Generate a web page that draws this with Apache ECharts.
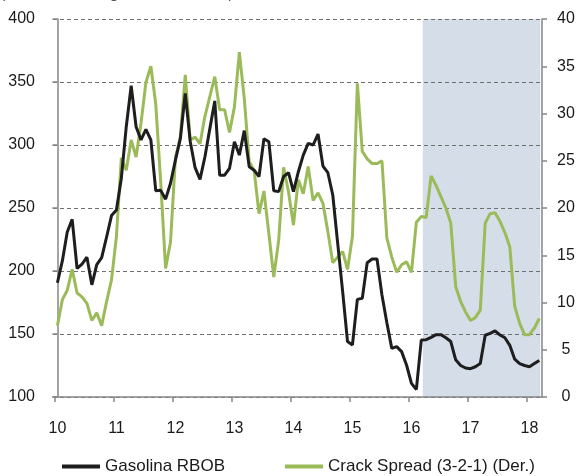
<!DOCTYPE html>
<html>
<head>
<meta charset="utf-8">
<script src="https://cdn.jsdelivr.net/npm/echarts@6/dist/echarts.min.js"></script>
<style>
html,body{margin:0;padding:0;background:#fff;}
#chart{width:582px;height:476px;background:#fff;}
</style>
</head>
<body>
<div id="chart"></div>
<script>
// Year tick labels (one per January, months indexed from Jan 2010 = 0)
const xTickLabels = ['10','11','12','13','14','15','16','17','18'];

// Gasolina RBOB (left axis), monthly from Jan 2010
const rbob = [
  190.7, 208, 231, 241, 202, 205.5, 211, 189, 205, 210.6, 227, 244, 248.4, 273.6, 314.5, 347,
  314.5, 304, 312.4, 304, 263.7, 264, 257, 269.6, 288, 305, 341, 303, 282, 272.7, 290.7, 313,
  335, 276, 276, 281.5, 302.6, 292, 311.4, 282.8, 280, 275, 305, 302.6, 263.7, 263, 275, 278,
  263, 278.8, 292, 301.3, 300, 308.7, 283.3, 278, 260.3, 222, 184, 144, 141.3, 177.5, 178.3, 206.6,
  209.5, 209.5, 181, 159, 138.6, 140, 136, 125.4, 110.8, 106, 145.2, 145.5, 147.3, 149.5, 149.5, 147,
  144, 129.5, 125, 123, 122.5, 124, 126.5, 149, 150.5, 152.5, 149.2, 147, 141, 130, 126.5, 125,
  124, 126.5, 129
];

// Crack Spread (3-2-1) (right axis), monthly from Jan 2010
const crack = [
  7.55, 10.3, 11.3, 13.5, 11.0, 10.6, 9.9, 8.1, 8.9, 7.55, 10.1, 12.4, 17.0, 25.3, 24.0, 27.2,
  25.4, 29.0, 33.3, 35.0, 31.0, 22.8, 13.6, 16.4, 25.3, 27.5, 34.1, 27.2, 27.5, 26.8, 29.7, 31.8,
  33.9, 30.4, 30.4, 28.0, 30.7, 36.5, 31.6, 24.9, 24.0, 19.4, 21.8, 17.3, 12.7, 16.6, 24.3, 21.7,
  18.2, 23.0, 21.5, 24.4, 20.8, 21.6, 20.5, 17.5, 14.2, 14.8, 15.4, 13.5, 17.0, 33.2, 26.0, 25.2,
  24.7, 24.7, 25.0, 16.8, 14.8, 13.2, 14.0, 14.3, 13.2, 18.5, 19.1, 19.0, 23.4, 22.4, 21.2, 20.0,
  18.4, 11.7, 10.1, 9.0, 8.1, 8.4, 9.2, 18.4, 19.4, 19.5, 18.6, 17.4, 15.9, 9.6, 7.8, 6.6,
  6.6, 7.3, 8.3
];

// Forecast (shaded) period, in month-index units
const forecastStart = 74.3;
const forecastEnd = 98.2;

const seriesNames = ['Gasolina RBOB', 'Crack Spread (3-2-1) (Der.)'];

const labelVals = xTickLabels.map((_, k) => k * 12);
const tickVals = xTickLabels.map((_, k) => k * 12 - 0.5);

const FONT = 'Liberation Sans';
const AX = '#868686';
const TXT = '#1a1a1a';

const chart = echarts.init(document.getElementById('chart'), null, {renderer: 'canvas'});
chart.setOption({
  animation: false,
  backgroundColor: '#ffffff',
  textStyle: {fontFamily: FONT},
  graphic: [{
    type: 'text', left: 0, top: -14, silent: true,
    style: {text: '(centavos US$/galón; US$/barril)', fill: '#595959', font: '16px "Liberation Sans"'}
  }],
  grid: {left: 53, right: 40, top: 19, bottom: 79, containLabel: false},
  legend: {
    left: 57, top: 453,
    icon: 'rect', itemWidth: 38, itemHeight: 4, itemGap: 60,
    textStyle: {fontSize: 17, color: TXT, fontFamily: FONT},
    data: seriesNames
  },
  xAxis: {
    type: 'value', min: -0.9, max: 98.55,
    axisLine: {show: true, onZero: false, lineStyle: {color: AX, width: 1.5}},
    axisTick: {show: true, customValues: tickVals, length: 5, lineStyle: {color: AX, width: 1.5}},
    axisLabel: {
      customValues: labelVals, margin: 24, fontSize: 16, color: TXT, fontFamily: FONT,
      formatter: v => xTickLabels[Math.round(v / 12)]
    },
    splitLine: {show: false}
  },
  yAxis: [{
    type: 'value', min: 100, max: 400, interval: 50, position: 'left',
    axisLine: {show: true, lineStyle: {color: AX, width: 1.5}},
    axisTick: {show: true, length: 5, lineStyle: {color: AX, width: 1.5}},
    axisLabel: {margin: 18, fontSize: 16, color: TXT, fontFamily: FONT},
    splitLine: {show: true, lineStyle: {color: '#6f6f6f', width: 1, type: [4, 3]}}
  }, {
    type: 'value', min: 0, max: 40, interval: 5, position: 'right',
    axisLine: {show: true, lineStyle: {color: AX, width: 1.5}},
    axisTick: {show: true, length: 5, lineStyle: {color: AX, width: 1.5}},
    axisLabel: {margin: 24, align: 'center', fontSize: 16, color: TXT, fontFamily: FONT},
    splitLine: {show: false}
  }, {
    type: 'value', min: 0, max: 1, show: false
  }],
  series: [{
    name: 'shade', type: 'line', yAxisIndex: 2, z: -1, silent: true,
    data: [[forecastStart, 1], [forecastEnd, 1]],
    showSymbol: false,
    lineStyle: {width: 0, opacity: 0},
    areaStyle: {color: '#d5dde8', opacity: 1}
  }, {
    name: seriesNames[1], type: 'line', yAxisIndex: 1,
    data: crack.map((v, i) => [i, v]),
    showSymbol: false, z: 3,
    lineStyle: {color: '#9bbb59', width: 3},
    itemStyle: {color: '#9bbb59'}
  }, {
    name: seriesNames[0], type: 'line', yAxisIndex: 0,
    data: rbob.map((v, i) => [i, v]),
    showSymbol: false, z: 4,
    lineStyle: {color: '#1e1e1e', width: 3},
    itemStyle: {color: '#1e1e1e'}
  }]
});
</script>
</body>
</html>
